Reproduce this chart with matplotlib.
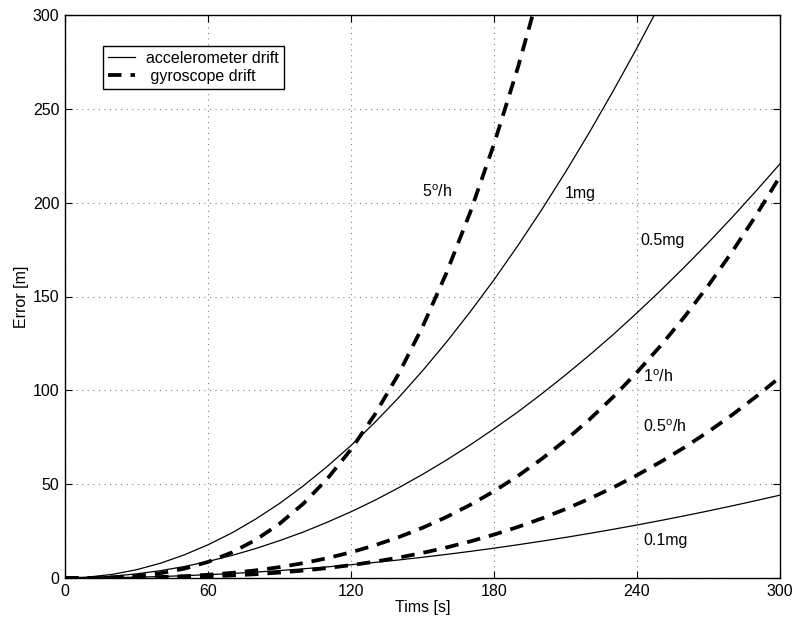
import matplotlib
matplotlib.use("Agg")
import matplotlib.pyplot as plt

# time [s]
t = [0, 10, 20, 30, 40, 50, 60, 70, 80, 90, 100, 110, 120, 130, 140, 150,
     160, 170, 180, 190, 200, 210, 220, 230, 240, 250, 260, 270, 280, 290, 300]

# accelerometer drift error [m]
acc_1mg = [0, 0.49, 1.96, 4.41, 7.85, 12.3, 17.7, 24.0, 31.4, 39.7, 49.1, 59.4,
           70.6, 82.9, 96.1, 110.4, 125.6, 141.8, 158.9, 177.1, 196.2, 216.3,
           237.4, 259.5, 282.5, 306.6]
acc_05mg = [0, 0.25, 0.98, 2.2, 3.9, 6.1, 8.8, 12.0, 15.7, 19.9, 24.5, 29.7, 35.3,
            41.4, 48.1, 55.2, 62.8, 70.9, 79.5, 88.5, 98.1, 108.2, 118.7, 129.7,
            141.3, 153.3, 165.8, 178.8, 192.3, 206.3, 220.7]
acc_01mg = [0, 0.05, 0.2, 0.44, 0.78, 1.23, 1.77, 2.4, 3.14, 3.97, 4.91, 5.93,
            7.06, 8.29, 9.61, 11.04, 12.56, 14.18, 15.89, 17.71, 19.62, 21.63,
            23.74, 25.95, 28.25, 30.66, 33.16, 35.76, 38.46, 41.26, 44.15]

# gyroscope drift error [m]
gyr_5 = [0, 0.04, 0.32, 1.07, 2.54, 4.95, 8.56, 13.6, 20.3, 28.9, 39.6, 52.8,
         68.5, 87.1, 108.8, 133.8, 162.4, 194.8, 231.2, 271.9, 317.1]
gyr_1 = [0, 0.01, 0.06, 0.21, 0.51, 0.99, 1.71, 2.72, 4.06, 5.78, 7.93, 10.55,
         13.7, 17.42, 21.75, 26.75, 32.47, 38.95, 46.23, 54.37, 63.42, 73.41,
         84.41, 96.45, 109.6, 123.9, 139.3, 156.0, 174.0, 193.3, 214.0]
gyr_05 = [0, 0.004, 0.03, 0.11, 0.25, 0.5, 0.86, 1.36, 2.03, 2.89, 3.96, 5.28,
          6.85, 8.71, 10.87, 13.37, 16.24, 19.48, 23.12, 27.19, 31.71, 36.71,
          42.21, 48.23, 54.79, 61.93, 69.67, 78.02, 87.01, 96.67, 107.0]

xticks = [0, 60, 120, 180, 240, 300]
yticks = [0, 50, 100, 150, 200, 250, 300]

plt.rcParams['font.family'] = ['Liberation Sans', 'DejaVu Sans']
plt.rcParams['font.size'] = 11.5
plt.rcParams['mathtext.fontset'] = 'custom'
plt.rcParams['mathtext.rm'] = 'Liberation Sans'

fig = plt.figure(figsize=(7.94, 6.23), dpi=100)
ax = fig.add_axes([65 / 794, 1 - 578 / 623, 715 / 794, 563 / 623])

dash = (3.6, 2.4)
ax.plot(t[:len(acc_1mg)], acc_1mg, 'k-', lw=0.9, label='accelerometer drift')
ax.plot(t, acc_05mg, 'k-', lw=0.9)
ax.plot(t, acc_01mg, 'k-', lw=0.9)
ax.plot(t[:len(gyr_5)], gyr_5, 'k--', lw=2.7, dashes=dash, label=' gyroscope drift')
ax.plot(t, gyr_1, 'k--', lw=2.7, dashes=dash)
ax.plot(t, gyr_05, 'k--', lw=2.7, dashes=dash)

ax.text(149.7, 206, r'5$^\mathrm{o}$/h', va='center')
ax.text(209.8, 205, '1mg', va='center')
ax.text(241.3, 179.7, '0.5mg', va='center')
ax.text(242.5, 107, r'1$^\mathrm{o}$/h', va='center')
ax.text(242.5, 80.6, r'0.5$^\mathrm{o}$/h', va='center')
ax.text(242.5, 19.9, '0.1mg', va='center')

ax.set_xlim(0, 300)
ax.set_ylim(0, 300)
ax.set_xticks(xticks)
ax.set_yticks(yticks)
ax.tick_params(direction='in', length=5, top=True, right=True, labelsize=11.5, pad=4)
ax.grid(True, linestyle=(0, (1, 4)), color='#808080', lw=0.8)
for s in ax.spines.values():
    s.set_linewidth(1.0)

ax.set_xlabel('Tims [s]', labelpad=1)
ax.set_ylabel('Error [m]', labelpad=3)

leg = ax.legend(loc='upper left', bbox_to_anchor=(38 / 715, 1 - 31 / 563),
                borderaxespad=0, fancybox=False, edgecolor='black', framealpha=1,
                handlelength=1.7, handletextpad=0.7, borderpad=0.3,
                labelspacing=0.2, fontsize=11.5)
leg.get_frame().set_linewidth(1.0)

plt.savefig('out.png', dpi=100)
plt.close()
